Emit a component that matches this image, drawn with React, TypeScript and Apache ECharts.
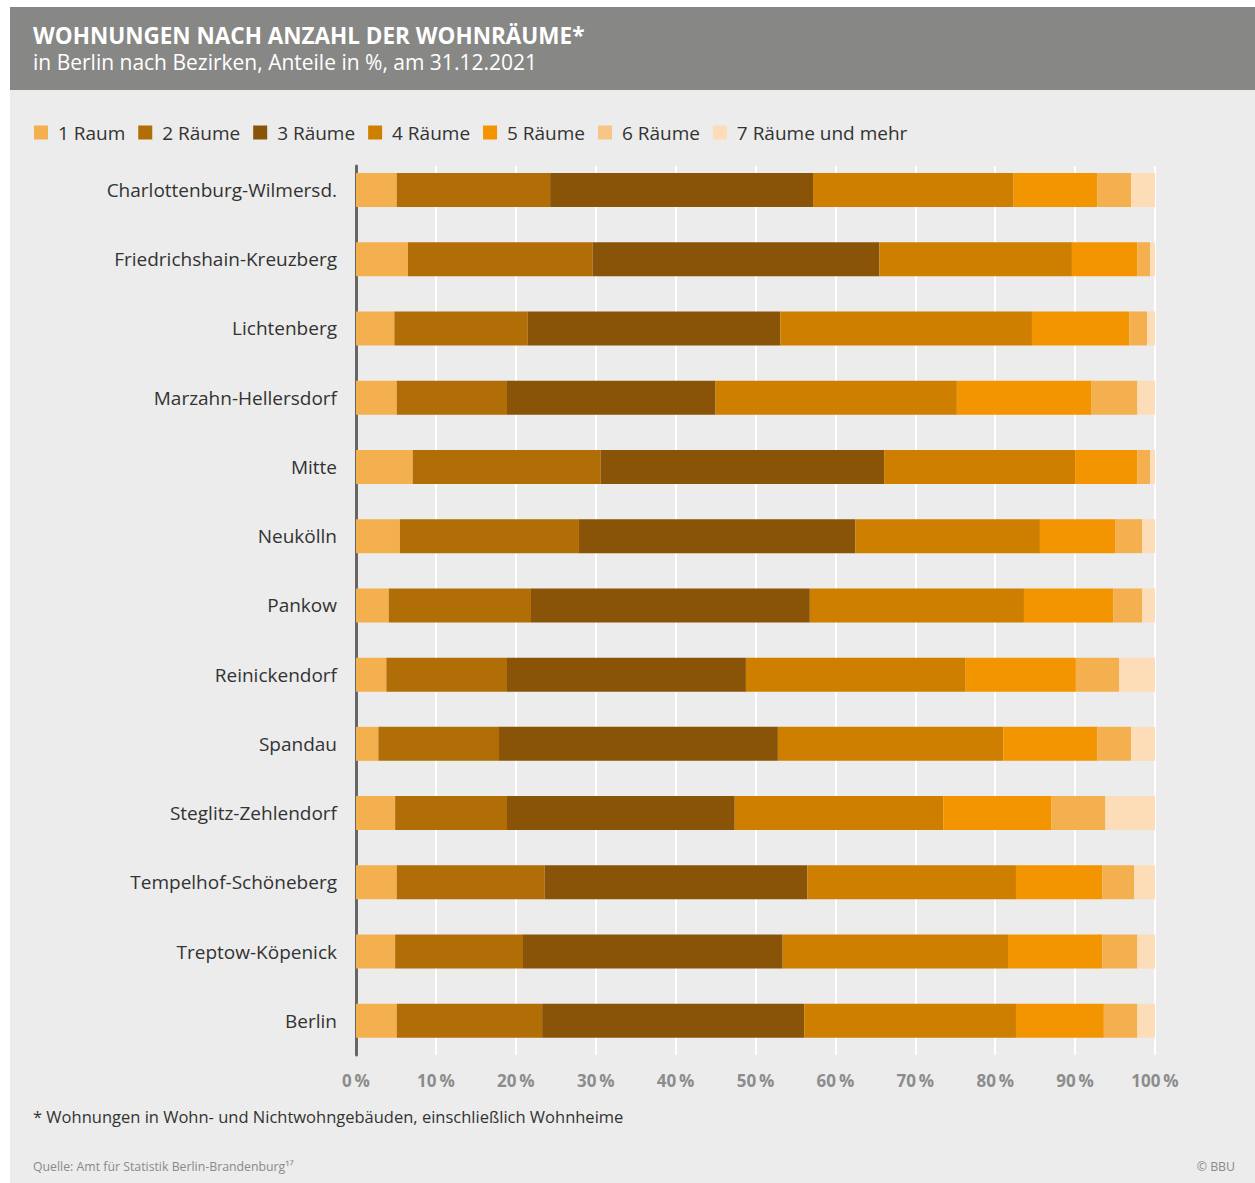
import React, { useEffect, useRef } from "react";
import * as echarts from "echarts";

const categories = [
  "Charlottenburg-Wilmersd.",
  "Friedrichshain-Kreuzberg",
  "Lichtenberg",
  "Marzahn-Hellersdorf",
  "Mitte",
  "Neukölln",
  "Pankow",
  "Reinickendorf",
  "Spandau",
  "Steglitz-Zehlendorf",
  "Tempelhof-Schöneberg",
  "Treptow-Köpenick",
  "Berlin",
];

const seriesNames = ["1 Raum", "2 Räume", "3 Räume", "4 Räume", "5 Räume", "6 Räume", "7 Räume und mehr"];

const raum1 = [5.1, 6.5, 4.8, 5.1, 7.1, 5.5, 4.1, 3.8, 2.8, 4.9, 5.1, 4.9, 5.1];
const raum2 = [19.2, 23.1, 16.7, 13.8, 23.5, 22.4, 17.8, 15.1, 15.1, 14.0, 18.5, 16.0, 18.2];
const raum3 = [32.9, 35.9, 31.6, 26.1, 35.5, 34.6, 34.9, 29.9, 34.9, 28.5, 32.9, 32.5, 32.8];
const raum4 = [25.1, 24.1, 31.5, 30.2, 23.9, 23.1, 26.8, 27.5, 28.2, 26.1, 26.1, 28.2, 26.5];
const raum5 = [10.5, 8.2, 12.2, 16.8, 7.8, 9.4, 11.2, 13.8, 11.8, 13.5, 10.8, 11.8, 11.0];
const raum6 = [4.2, 1.6, 2.2, 5.8, 1.6, 3.4, 3.6, 5.4, 4.2, 6.8, 4.0, 4.4, 4.2];
const raum7 = [3.0, 0.6, 1.0, 2.2, 0.6, 1.6, 1.6, 4.5, 3.0, 6.2, 2.6, 2.2, 2.2];

const seriesValues = [raum1, raum2, raum3, raum4, raum5, raum6, raum7];
const barColors = ["#F4B04F", "#B16E06", "#895308", "#CE7F00", "#F29500", "#F4B04F", "#FCDDB8"];
const legendColors = ["#F4B04F", "#B16E06", "#895308", "#CE7F00", "#F29500", "#F8C587", "#FCDDB8"];

const xTicks = [0, 10, 20, 30, 40, 50, 60, 70, 80, 90, 100];

const FONT = "'Open Sans', 'Noto Sans', sans-serif";

export default function App() {
  const ref = useRef<HTMLDivElement>(null);

  useEffect(() => {
    document.body.style.margin = "0";
    document.body.style.background = "#ffffff";
    const chart = echarts.init(ref.current!, undefined, { renderer: "svg" });

    const option: any = {
      animation: false,
      backgroundColor: "#ffffff",
      textStyle: { fontFamily: FONT },
      graphic: [
        { type: "rect", z: -10, shape: { x: 10, y: 7, width: 1245, height: 83 }, style: { fill: "#878785" } },
        { type: "rect", z: -10, shape: { x: 10, y: 90, width: 1245, height: 1093 }, style: { fill: "#EBECEB" } },
        {
          type: "text",
          x: 33,
          y: 35,
          style: {
            text: "WOHNUNGEN NACH ANZAHL DER WOHNRÄUME*",
            font: `bold 22.5px ${FONT}`,
            fill: "#ffffff",
            verticalAlign: "middle",
          },
        },
        {
          type: "text",
          x: 33,
          y: 62,
          style: {
            text: "in Berlin nach Bezirken, Anteile in %, am 31.12.2021",
            font: `21px ${FONT}`,
            fill: "#ffffff",
            verticalAlign: "middle",
          },
        },
        {
          type: "text",
          x: 33,
          y: 1116,
          style: {
            text: "* Wohnungen in Wohn- und Nichtwohngebäuden, einschließlich Wohnheime",
            font: `16.5px ${FONT}`,
            fill: "#333333",
            verticalAlign: "middle",
          },
        },
        {
          type: "text",
          x: 33,
          y: 1166,
          style: {
            text: "Quelle: Amt für Statistik Berlin-Brandenburg¹⁷",
            font: `12.3px ${FONT}`,
            fill: "#8a8a8a",
            verticalAlign: "middle",
          },
        },
        {
          type: "text",
          x: 1235,
          y: 1166,
          style: {
            text: "© BBU",
            font: `12.3px ${FONT}`,
            fill: "#8a8a8a",
            verticalAlign: "middle",
            align: "right",
          },
        },
      ],
      legend: {
        left: 29,
        top: 118,
        itemWidth: 14,
        itemHeight: 14,
        itemGap: 13,
        icon: "rect",
        formatter: (name: string) => " " + name,
        textStyle: { fontSize: 19, color: "#333333", fontFamily: FONT },
        data: seriesNames.map((n, i) => ({ name: n, itemStyle: { color: legendColors[i] } })),
      },
      grid: [
        { left: 356, top: 166, width: 799, height: 889 },
        { left: 356, top: 155.4, width: 799, height: 900 },
      ],
      xAxis: [
        {
          type: "value",
          gridIndex: 0,
          min: 0,
          max: 100,
          interval: 10,
          axisLine: { show: false },
          axisTick: { show: false },
          splitLine: { show: true, lineStyle: { color: "#ffffff", width: 2 } },
          axisLabel: {
            margin: 17,
            fontSize: 17,
            fontWeight: "bold",
            color: "#8c8c8c",
            fontFamily: FONT,
            formatter: (v: number) => (xTicks.includes(v) ? `${v}\u2009%` : ""),
          },
        },
        {
          type: "value",
          gridIndex: 1,
          min: 0,
          max: 100,
          show: false,
          splitLine: { show: false },
        },
      ],
      yAxis: [
        {
          type: "value",
          gridIndex: 0,
          min: 0,
          max: 1,
          axisLine: { show: true, lineStyle: { color: "#666666", width: 3 } },
          axisTick: { show: false },
          axisLabel: { show: false },
          splitLine: { show: false },
        },
        {
          type: "category",
          gridIndex: 1,
          data: categories,
          inverse: true,
          axisLine: { show: false },
          axisTick: { show: false },
          splitLine: { show: false },
          axisLabel: { margin: 19, fontSize: 19, color: "#333333", fontFamily: FONT },
        },
      ],
      series: seriesNames.map((name, i) => ({
        name,
        type: "bar",
        stack: "total",
        xAxisIndex: 1,
        yAxisIndex: 1,
        barWidth: 34,
        itemStyle: { color: barColors[i] },
        emphasis: { disabled: true },
        data: seriesValues[i],
      })),
    };

    chart.setOption(option);
    return () => chart.dispose();
  }, []);

  return <div ref={ref} style={{ width: 1255, height: 1183 }} />;
}
